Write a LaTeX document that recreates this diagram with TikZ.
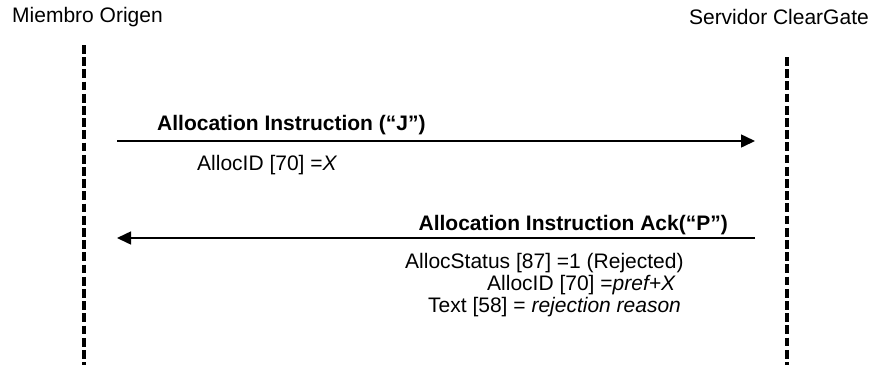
\documentclass[tikz,border=0pt]{standalone}
\usepackage{fontspec}
\setmainfont{Liberation Sans}
\usetikzlibrary{arrows.meta}
\begin{document}
\begin{tikzpicture}[x=1pt,y=-1pt,
  lbl/.style={inner sep=0pt,font=\fontsize{21}{25}\selectfont},
  ttl/.style={inner sep=0pt,font=\fontsize{21}{25}\selectfont\bfseries},
  life/.style={line width=3.5pt, dash pattern=on 8.7pt off 3.5pt},
  msg/.style={line width=1.5pt,-{Triangle[length=14pt,width=13pt]}}]
\useasboundingbox (0,0) rectangle (874,365);
% actors
\node[lbl,anchor=base west] (orig) at (12,22) {Miembro Origen};
\node[lbl,anchor=base east] (serv) at (869,24) {Servidor ClearGate};
% lifelines
\coordinate (ltop) at (84,45);
\coordinate (lbot) at (84,365);
\coordinate (rtop) at (787,57);
\coordinate (rbot) at (787,365);
\draw[life] (ltop) -- (lbot);
\draw[life] (rtop) -- (rbot);
% message 1
\coordinate (m1s) at (117,141);
\coordinate (m1e) at (755,141);
\draw[msg] (m1s) -- (m1e);
\node[ttl,anchor=base west] (t1) at (157,130) {Allocation Instruction (“J”)};
\node[lbl,anchor=base west] (f1) at (197,170) {AllocID [70] =\textit{X}};
% message 2
\coordinate (m2s) at (755,238);
\coordinate (m2e) at (117,238);
\draw[msg] (m2s) -- (m2e);
\node[ttl,anchor=base east] (t2) at (728,230) {Allocation Instruction Ack(“P”)};
\node[lbl,anchor=base west] (f2a) at (405,268) {AllocStatus [87] =1 (Rejected)};
\node[lbl,anchor=base west] (f2b) at (487,290) {AllocID [70] =\textit{pref+X}};
\node[lbl,anchor=base west] (f2c) at (428,312) {Text [58] = \textit{rejection reason}};
\end{tikzpicture}
\end{document}
